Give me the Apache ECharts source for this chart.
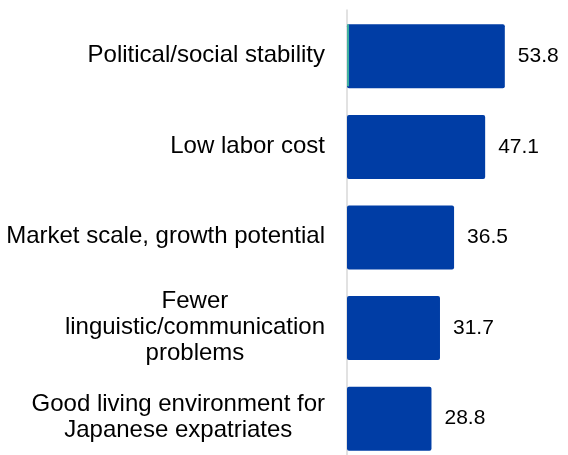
<!DOCTYPE html>
<html lang="en">
<head>
<meta charset="UTF-8">
<title>Reasons</title>
<script src="https://cdn.jsdelivr.net/npm/echarts@6/dist/echarts.min.js"></script>
<style>
  html, body { margin: 0; padding: 0; background: #fff; overflow: hidden; }
  #main { width: 568px; height: 470px; }
</style>
</head>
<body>
<div id="main"></div>
<script>
var categories = [
    'Political/social stability',
    'Low labor cost',
    'Market scale, growth potential',
    'Fewer\nlinguistic/communication\nproblems',
    'Good living environment for\nJapanese expatriates'
];
var values = [53.8, 47.1, 36.5, 31.7, 28.8];
// thin green sliver seen at the base of the first bar
var sliverValues = [0.7, 0, 0, 0, 0];

var myChart = echarts.init(document.getElementById('main'));

// the plot runs a little past the bottom edge of the window
var option = {
    animation: false,
    textStyle: { fontFamily: '"Liberation Sans", Arial, sans-serif' },
    grid: { left: 347, top: 10, width: 176, height: 453 },
    xAxis: {
        type: 'value',
        min: 0,
        max: 60,
        show: false
    },
    yAxis: {
        type: 'category',
        inverse: true,
        data: categories,
        axisLine: { show: true, lineStyle: { color: '#d9d9d9', width: 1.5 } },
        axisTick: { show: false },
        axisLabel: {
            margin: 22,
            align: 'right',
            color: '#000',
            fontSize: 24,
            formatter: function (v) {
                return v.split('\n').map(function (s) { return '{c|' + s + '}'; }).join('\n');
            },
            rich: {
                c: { align: 'center', fontSize: 24, lineHeight: 26, color: '#000',
                     fontFamily: '"Liberation Sans", Arial, sans-serif' }
            }
        }
    },
    series: [{
        type: 'bar',
        data: values,
        barWidth: 64,
        itemStyle: { color: '#003da5', borderRadius: 2 },
        label: {
            show: true,
            position: 'right',
            distance: 13,
            color: '#000',
            fontSize: 21,
            formatter: function (p) { return p.value.toFixed(1); }
        }
    }, {
        type: 'bar',
        data: sliverValues,
        barWidth: 62,
        barGap: '-100%',
        z: 3,
        itemStyle: { color: '#40b0a0' },
        silent: true
    }]
};

myChart.setOption(option);
</script>
</body>
</html>
